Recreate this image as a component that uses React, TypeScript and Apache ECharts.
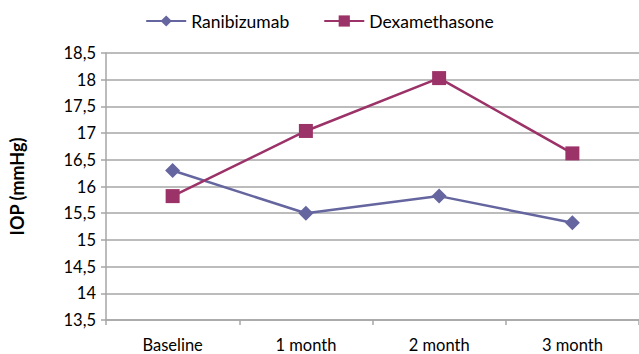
import React, { useEffect, useRef } from "react";
import * as echarts from "echarts";

const categories = ["Baseline", "1 month", "2 month", "3 month"];
const ranibizumab = [16.3, 15.5, 15.82, 15.32];
const dexamethasone = [15.82, 17.04, 18.03, 16.62];
const seriesNames = ["Ranibizumab", "Dexamethasone"];
const yAxisTitle = "IOP (mmHg)";

const FONT = "Lato, 'Open Sans', sans-serif";
const GRID_COLOR = "#A6A6A6";

export default function App() {
  const ref = useRef<HTMLDivElement>(null);

  useEffect(() => {
    if (!ref.current) return;
    const chart = echarts.init(ref.current, undefined, { renderer: "svg" });
    chart.setOption({
      animation: false,
      backgroundColor: "#ffffff",
      textStyle: { fontFamily: FONT },
      legend: {
        top: 7,
        left: "center",
        itemWidth: 40,
        itemHeight: 14,
        itemGap: 34,
        textStyle: { fontSize: 17.5, color: "#000", fontFamily: FONT },
        data: seriesNames,
      },
      grid: { left: 105, right: 0, top: 53, bottom: 34 },
      xAxis: {
        type: "category",
        data: categories,
        boundaryGap: true,
        axisLine: { lineStyle: { color: GRID_COLOR, width: 1.5 } },
        axisTick: { show: true, length: 5, interval: 0, lineStyle: { color: GRID_COLOR, width: 1.5 } },
        axisLabel: { color: "#000", fontSize: 16.5, margin: 16, fontFamily: FONT },
        splitLine: { show: false },
      },
      yAxis: {
        type: "value",
        min: 13.5,
        max: 18.5,
        interval: 0.5,
        name: yAxisTitle,
        nameLocation: "middle",
        nameGap: 80,
        nameTextStyle: { fontSize: 18, fontWeight: "bold", color: "#000", fontFamily: FONT },
        axisLine: { show: true, lineStyle: { color: GRID_COLOR, width: 1.5 } },
        axisTick: { show: true, length: 5, lineStyle: { color: GRID_COLOR, width: 1.5 } },
        axisLabel: {
          color: "#000",
          fontSize: 16.5,
          margin: 10,
          fontFamily: FONT,
          formatter: (v: number) => String(v).replace(".", ","),
        },
        splitLine: { show: true, lineStyle: { color: GRID_COLOR, width: 1.5 } },
      },
      series: [
        {
          name: seriesNames[0],
          type: "line",
          data: ranibizumab,
          symbol: "diamond",
          symbolSize: 15,
          lineStyle: { color: "#65659F", width: 2.5 },
          itemStyle: { color: "#65659F" },
        },
        {
          name: seriesNames[1],
          type: "line",
          data: dexamethasone,
          symbol: "rect",
          symbolSize: 14,
          lineStyle: { color: "#9B3268", width: 2.5 },
          itemStyle: { color: "#9B3268" },
        },
      ],
    });
    return () => chart.dispose();
  }, []);

  return <div ref={ref} style={{ width: 639, height: 354, position: "absolute", left: 0, top: 0 }} />;
}
